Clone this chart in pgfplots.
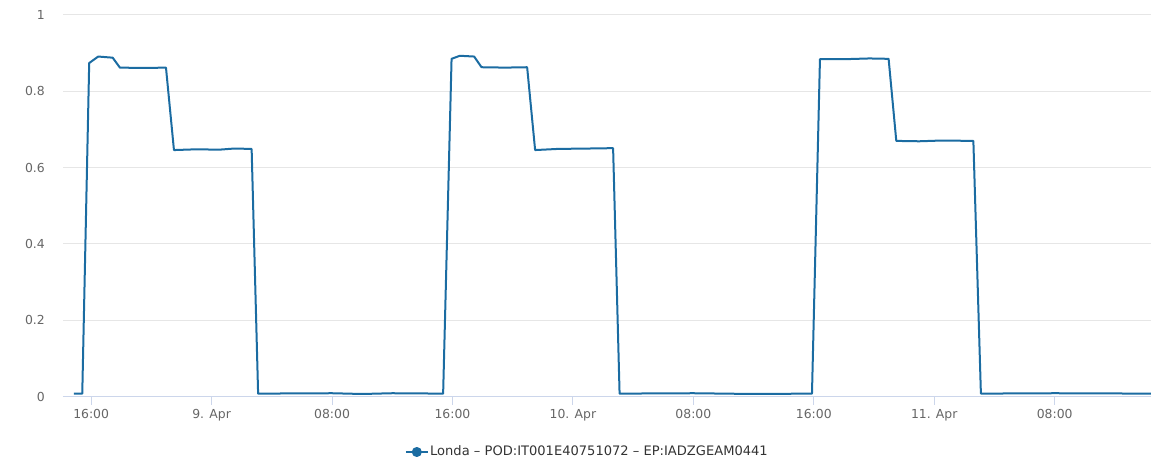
\documentclass[border=0pt]{standalone}
\usepackage{fontspec}
\setmainfont{DejaVu Sans}
\usepackage{pgfplots}
\pgfplotsset{compat=1.18}
\definecolor{series}{HTML}{1B6CA2}
\definecolor{gridc}{HTML}{E6E6E6}
\definecolor{axisc}{HTML}{CCD6EB}
\definecolor{labc}{HTML}{666666}
\definecolor{legc}{HTML}{333333}
\begin{document}
\begin{tikzpicture}
\useasboundingbox (-47.25pt,-47.5pt) rectangle (816pt,297.5pt);
\begin{axis}[
  at={(0,0)}, anchor=south west,
  scale only axis, width=816pt, height=286.3pt,
  xmin=-9.87, xmax=62.4, ymin=0, ymax=1,
  axis x line*=bottom, axis y line*=left,
  x axis line style={-, draw=axisc, line width=0.75pt},
  y axis line style={draw=none},
  ymajorgrids, grid style={gridc, line width=0.75pt},
  tick align=outside, major tick length=6pt,
  x tick style={draw=axisc, line width=0.75pt},
  y tick style={draw=none},
  xtick={-8,0,8,16,24,32,40,48,56},
  xticklabels={16:00,9. Apr,08:00,16:00,10. Apr,08:00,16:00,11. Apr,08:00},
  ytick={0,0.2,0.4,0.6,0.8,1},
  yticklabels={0,0.2,0.4,0.6,0.8,1},
  ticklabel style={font=\fontsize{9.3}{11}\selectfont, text=labc},
  xticklabel style={inner sep=0pt, yshift=-3.2pt},
  yticklabel style={inner sep=0pt, xshift=-7.5pt},
  legend style={at={(0.4816,0)}, anchor=center, yshift=-41.5pt, draw=none, fill=none,
    font=\fontsize{9.8}{12}\selectfont, text=legc,
    nodes={inner sep=1pt}},
  legend cell align=left,
  legend image code/.code={\draw[line width=1.5pt] (0pt,0pt) -- (16.5pt,0pt); \fill (8.25pt,0pt) circle (3pt);},
]
\addplot[series, line width=1.5pt, line join=round] coordinates {
(-9.14,0.008) (-8.59,0.008) (-8.13,0.874) (-7.53,0.891) (-6.57,0.888) (-6.09,0.862)
(-4.5,0.861) (-3.03,0.862) (-2.50,0.646) (-1,0.648) (0.5,0.647) (1.5,0.650) (2.66,0.649)
(3.09,0.008) (8,0.009) (10,0.007) (12,0.009) (15.38,0.008)
(15.94,0.885) (16.49,0.893) (17.44,0.891) (17.93,0.863) (19.5,0.862) (20.96,0.863)
(21.49,0.646) (23,0.649) (25,0.650) (26.67,0.651)
(27.1,0.008) (32,0.009) (36,0.007) (39.88,0.008)
(40.41,0.884) (42,0.884) (43.7,0.886) (44.97,0.885)
(45.48,0.670) (47,0.669) (48.5,0.671) (50.6,0.670)
(51.1,0.008) (56,0.009) (62.4,0.008)
};
\addlegendentry{Londa – POD:IT001E40751072 – EP:IADZGEAM0441}
\end{axis}
\end{tikzpicture}
\end{document}
